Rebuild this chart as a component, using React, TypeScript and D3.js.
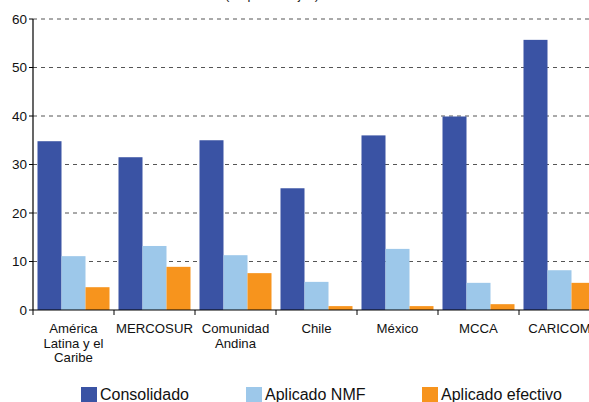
import React from "react";
import * as d3 from "d3";

const categories = ["América Latina y el Caribe", "MERCOSUR", "Comunidad Andina", "Chile", "México", "MCCA", "CARICOM"];
const categoryLines = [["América", "Latina y el", "Caribe"], ["MERCOSUR"], ["Comunidad", "Andina"], ["Chile"], ["México"], ["MCCA"], ["CARICOM"]];
const seriesNames = ["Consolidado", "Aplicado NMF", "Aplicado efectivo"];
const consolidado = [34.8, 31.5, 35.0, 25.1, 36.0, 39.9, 55.7];
const aplicadoNMF = [11.1, 13.2, 11.3, 5.8, 12.6, 5.6, 8.2];
const aplicadoEfectivo = [4.7, 8.9, 7.6, 0.8, 0.8, 1.2, 5.6];
const yTicks = [0, 10, 20, 30, 40, 50, 60];
const colors = ["#3A53A4", "#9DC8EA", "#F7941D"];

export default function App() {
  const W = 589, H = 402;
  const left = 33, top = 19, bottom = 310;
  const bandW = 81;
  const x = d3.scaleBand<string>().domain(categories).range([left, left + bandW * categories.length]).paddingInner(0).paddingOuter(0);
  const inner = d3.scaleBand<string>().domain(seriesNames).range([4.5, bandW - 4.5]).padding(0);
  const y = d3.scaleLinear().domain([0, 60]).range([bottom, top]);
  const series = [consolidado, aplicadoNMF, aplicadoEfectivo];
  const font = "Helvetica, Arial, 'Liberation Sans', sans-serif";
  const legendX = [81, 246, 422];

  return (
    <svg width={W} height={H} style={{ position: "absolute", left: 0, top: 0, fontFamily: font }}>
      <rect width={W} height={H} fill="#fff" />
      <text x={272} y={-1} textAnchor="middle" fontSize={13} fill="#222">(en porcentajes)</text>
      {yTicks.filter(t => t > 0).map(t => (
        <line key={t} x1={left} x2={W} y1={y(t)} y2={y(t)} stroke="#555" strokeWidth={1} strokeDasharray="4,4" />
      ))}
      {categories.map((c, i) => (
        <g key={c}>
          {series.map((s, j) => (
            <rect key={j} x={(x(c) as number) + (inner(seriesNames[j]) as number)} y={y(s[i])} width={inner.bandwidth()} height={bottom - y(s[i])} fill={colors[j]} />
          ))}
        </g>
      ))}
      <line x1={left} x2={left} y1={top} y2={bottom} stroke="#000" strokeWidth={1.2} />
      <line x1={left} x2={W} y1={bottom} y2={bottom} stroke="#000" strokeWidth={1.2} />
      {yTicks.map(t => (
        <g key={t}>
          <line x1={left - 4} x2={left} y1={y(t)} y2={y(t)} stroke="#000" />
          <text x={left - 6} y={y(t)} dy="0.35em" textAnchor="end" fontSize={13.5} fill="#111">{t}</text>
        </g>
      ))}
      {categories.map((c, i) => (
        <g key={c}>
          <line x1={x(c) as number} x2={x(c) as number} y1={bottom} y2={bottom + 5} stroke="#000" />
          {categoryLines[i].map((ln, k) => (
            <text key={k} x={(x(c) as number) + bandW / 2} y={bottom + 23 + k * 14.5} textAnchor="middle" fontSize={13.2} fill="#111">{ln}</text>
          ))}
        </g>
      ))}
      {seriesNames.map((n, j) => (
        <g key={n}>
          <rect x={legendX[j]} y={387} width={16} height={16} fill={colors[j]} />
          <text x={legendX[j] + 19} y={400} fontSize={16} fill="#111">{n}</text>
        </g>
      ))}
    </svg>
  );
}
